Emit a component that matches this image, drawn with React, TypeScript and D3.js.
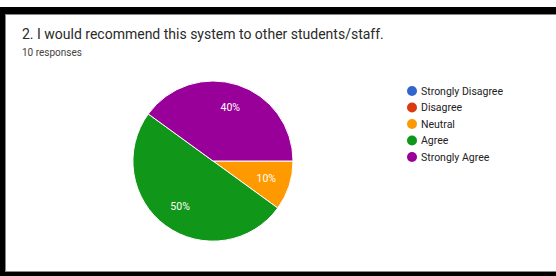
import * as d3 from "d3";

const title = "2. I would recommend this system to other students/staff.";
const subtitle = "10 responses";
const categories = ["Strongly Disagree", "Disagree", "Neutral", "Agree", "Strongly Agree"];
const counts = [0, 0, 1, 5, 4];
const colors = ["#3366cc", "#dc3912", "#ff9900", "#109618", "#990099"];

const W = 556;
const H = 276;
const FONT = "Roboto, Arial, sans-serif";

export default function App() {
  const cx = 213;
  const cy = 161;
  const r = 80;
  const total = d3.sum(counts);

  const pie = d3
    .pie<number>()
    .sort(null)
    .startAngle(Math.PI / 2)
    .endAngle(Math.PI / 2 + 2 * Math.PI)
    .value((d) => d);
  const arcs = pie(counts);
  const arc = d3.arc<d3.PieArcDatum<number>>().innerRadius(0).outerRadius(r);
  const labelArc = d3
    .arc<d3.PieArcDatum<number>>()
    .innerRadius(r * 0.7)
    .outerRadius(r * 0.7);

  const color = d3.scaleOrdinal<string, string>().domain(categories).range(colors);
  const legendY = d3
    .scalePoint<string>()
    .domain(categories)
    .range([91, 157]);

  return (
    <div style={{ position: "absolute", left: 0, top: 0 }}>
      <svg width={W} height={H} style={{ display: "block" }}>
        <rect x={0} y={0} width={W} height={H} fill="#fff" />
        {/* screenshot frame */}
        <rect x={0} y={7} width={W} height={7} fill="#000" />
        <rect x={0} y={7} width={5} height={H - 7} fill="#000" />
        <rect x={0} y={272} width={W} height={4} fill="#000" />
        <line x1={5} x2={W} y1={14.5} y2={14.5} stroke="#888" />
        <line x1={5.5} x2={5.5} y1={14} y2={272} stroke="#888" />
        <line x1={5} x2={W} y1={271.5} y2={271.5} stroke="#888" />

        <text x={22} y={39} fontFamily={FONT} fontSize={14} fill="#2a2a2a">
          {title}
        </text>
        <text x={22} y={55.5} fontFamily={FONT} fontSize={10} fill="#444">
          {subtitle}
        </text>

        <g transform={`translate(${cx},${cy})`}>
          {arcs.map((a, i) =>
            a.value > 0 ? (
              <path key={i} d={arc(a) || ""} fill={colors[i]} stroke="#fff" strokeWidth={1} />
            ) : null
          )}
          {arcs.map((a, i) => {
            if (a.value <= 0) return null;
            const [lx, ly] = labelArc.centroid(a);
            return (
              <text
                key={"l" + i}
                x={lx}
                y={ly}
                dy="0.35em"
                textAnchor="middle"
                fontFamily={FONT}
                fontSize={10.5}
                fill="#fff"
              >
                {Math.round((a.value / total) * 100) + "%"}
              </text>
            );
          })}
        </g>

        <g>
          {categories.map((c) => (
            <g key={c} transform={`translate(412,${legendY(c)})`}>
              <circle r={5} fill={color(c)} />
              <text x={9} dy="0.35em" fontFamily={FONT} fontSize={10.5} fill="#222">
                {c}
              </text>
            </g>
          ))}
        </g>
      </svg>
    </div>
  );
}
